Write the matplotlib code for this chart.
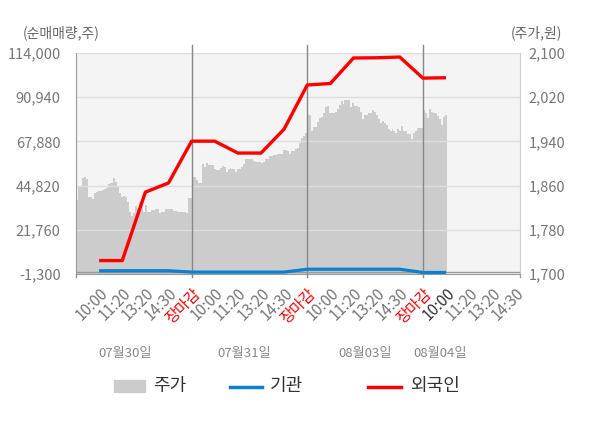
import numpy as np
import matplotlib.pyplot as plt
from matplotlib.lines import Line2D
from matplotlib.patches import Rectangle

plt.rcParams['font.family'] = ['Noto Sans CJK KR', 'DejaVu Sans']

# intraday price (원), roughly 2-px samples
price_0730 = [1834, 1857, 1857, 1874, 1876, 1872, 1839, 1839, 1836, 1847,
              1848, 1850, 1850, 1852, 1854, 1856, 1863, 1865, 1874, 1867,
              1859, 1847, 1839, 1841, 1839, 1830, 1812, 1805, 1810, 1823,
              1819, 1830, 1823, 1812, 1825, 1812, 1812, 1816, 1816, 1818,
              1818, 1810, 1812, 1812, 1818, 1818, 1818, 1818, 1814, 1814,
              1812, 1812, 1812, 1812, 1810, 1838, 1838]
price_0731 = [1876, 1876, 1870, 1865, 1865, 1899, 1894, 1901, 1897, 1897,
              1897, 1890, 1888, 1888, 1891, 1895, 1893, 1885, 1890, 1891,
              1890, 1890, 1885, 1890, 1890, 1893, 1900, 1908, 1908, 1908,
              1908, 1905, 1903, 1903, 1903, 1901, 1903, 1909, 1909, 1914,
              1914, 1915, 1915, 1918, 1918, 1917, 1924, 1924, 1923, 1917,
              1923, 1923, 1926, 1928, 1938, 1946, 1950, 1956]
price_0803 = [1988, 1988, 1958, 1966, 1966, 1976, 1982, 1985, 1991, 2003,
              2004, 1992, 1991, 1991, 1994, 1998, 2006, 2014, 2008, 2015,
              2015, 2015, 2002, 2009, 2004, 2004, 2002, 1994, 1980, 1988,
              1988, 1992, 1992, 1997, 1994, 1988, 1980, 1974, 1977, 1973,
              1970, 1962, 1958, 1962, 1958, 1955, 1962, 1958, 1968, 1958,
              1959, 1953, 1953, 1944, 1955, 1958, 1964, 1964, 1964]
price_0804 = [1996, 1992, 1982, 1998, 1994, 1991, 1991, 1986, 1980, 1970,
              1984, 1988]

# cumulative net buying (주) at each labelled time
foreign = [5700, 5700, 41400, 46200, 68000,
           68000, 61800, 61800, 74300, 97300,
           98100, 111400, 111500, 111900, 100900,
           101100]
inst = [400, 400, 400, 400, -300,
        -300, -300, -300, -300, 1200,
        1200, 1200, 1200, 1200, -500,
        -500]

days = ['07월30일', '07월31일', '08월03일', '08월04일']
times = ['10:00', '11:20', '13:20', '14:30', '장마감']
vol_ticks = [-1300, 21760, 44820, 67880, 90940, 114000]
price_ticks = [1700, 1780, 1860, 1940, 2020, 2100]

W, H = 600, 428
def fx(px):
    return px / W
def fy(py):
    return 1 - py / H

GRAY_TXT = '#777777'
RED = '#ff0000'
BLUE = '#0a80d0'

fig = plt.figure(figsize=(6, 4.28), dpi=100)
ax = fig.add_axes([fx(76), fy(274), (520 - 76) / W, (274 - 53) / H])
ax2 = ax.twinx()
ax.yaxis.tick_right()
ax2.yaxis.tick_left()
ax.set_facecolor('#f4f4f4')

# price area, each day spread over 5 label slots
x_all, p_all = [], []
step = 5 / 58
for d, p in enumerate([price_0730, price_0731, price_0803]):
    n = len(p)
    x_all += list(5 * d + np.arange(n) * 5 / n)
    p_all += p
x_all += list(15 + np.arange(len(price_0804)) * step)
p_all += price_0804
x_all.append(x_all[-1] + step)
p_all.append(p_all[-1])
ax.fill_between(x_all, p_all, 1700, step='post', color='#cccccc', lw=0, zorder=1)

xmax = 19.2
ax.set_xlim(0, xmax)
ax.set_ylim(1700, 2100)
ax2.set_ylim(-1300, 114000)

for t in price_ticks[1:]:
    ax.axhline(t, color='#dddddd', lw=1, zorder=2)
for b in [5, 10, 15]:
    ax.axvline(b, ymin=-3 / 221, ymax=1 + 8 / 221, color='#888888', lw=1,
               clip_on=False, zorder=3)
ax2.axhline(0, color='#999999', lw=1, zorder=2)

xs = np.arange(1, len(foreign) + 1)
ax2.plot(xs, inst, color=BLUE, lw=2.3, solid_capstyle='butt', zorder=4)
ax2.plot(xs, foreign, color=RED, lw=2.4, solid_capstyle='butt', zorder=5)

# x tick labels
labels = times * 3 + times[:4]
ax.set_xticks(np.arange(1, len(labels) + 1))
ax.set_xticklabels(labels, rotation=45, ha='right', rotation_mode='anchor', fontsize=11)
for i, lab in enumerate(ax.get_xticklabels()):
    if lab.get_text() == '장마감':
        lab.set_color(RED)
    elif i == 15:
        lab.set_color('#333333')
    else:
        lab.set_color(GRAY_TXT)
ax.tick_params(axis='x', length=0, pad=8)
for b in [0, xmax]:
    ax.axvline(b, ymin=-3 / 221, ymax=0, color='#999999', lw=1, clip_on=False)

ax.set_yticks(price_ticks)
ax.set_yticklabels([f'{v:,}' for v in price_ticks])
ax.tick_params(axis='y', length=0, pad=6, labelsize=10.5, labelcolor=GRAY_TXT)
ax2.set_yticks(vol_ticks)
ax2.set_yticklabels([f'{v:,}' for v in vol_ticks])
ax2.tick_params(axis='y', length=0, pad=11, labelsize=10.5, labelcolor=GRAY_TXT)

ax.spines['top'].set_visible(False)
ax.spines['left'].set_color('#999999')
ax.spines['bottom'].set_color('#999999')
ax.spines['right'].set_color('#cccccc')
for s in ax2.spines.values():
    s.set_visible(False)

fig.text(fx(23), fy(33), '(순매매량,주)', fontsize=10, color='#666666', va='center', ha='left')
fig.text(fx(562), fy(33), '(주가,원)', fontsize=10, color='#666666', va='center', ha='right')

for name, cx in zip(days, [125, 244, 365, 440]):
    fig.text(fx(cx), fy(353), name, fontsize=9.5, color='#888888', ha='center', va='center')

# legend
fig.patches.append(Rectangle((fx(114), fy(392)), 31 / W, 12 / H, color='#cccccc',
                             transform=fig.transFigure, figure=fig))
fig.lines.append(Line2D([fx(230), fx(262)], [fy(386.5)] * 2, color=BLUE, lw=2.5,
                        transform=fig.transFigure, figure=fig))
fig.lines.append(Line2D([fx(368), fx(401)], [fy(386.5)] * 2, color=RED, lw=2.5,
                        transform=fig.transFigure, figure=fig))
for name, px in [('주가', 153), ('기관', 270), ('외국인', 410)]:
    fig.text(fx(px), fy(386), name, fontsize=13, color='#333333', ha='left', va='center')

fig.savefig('out.png', dpi=100)
